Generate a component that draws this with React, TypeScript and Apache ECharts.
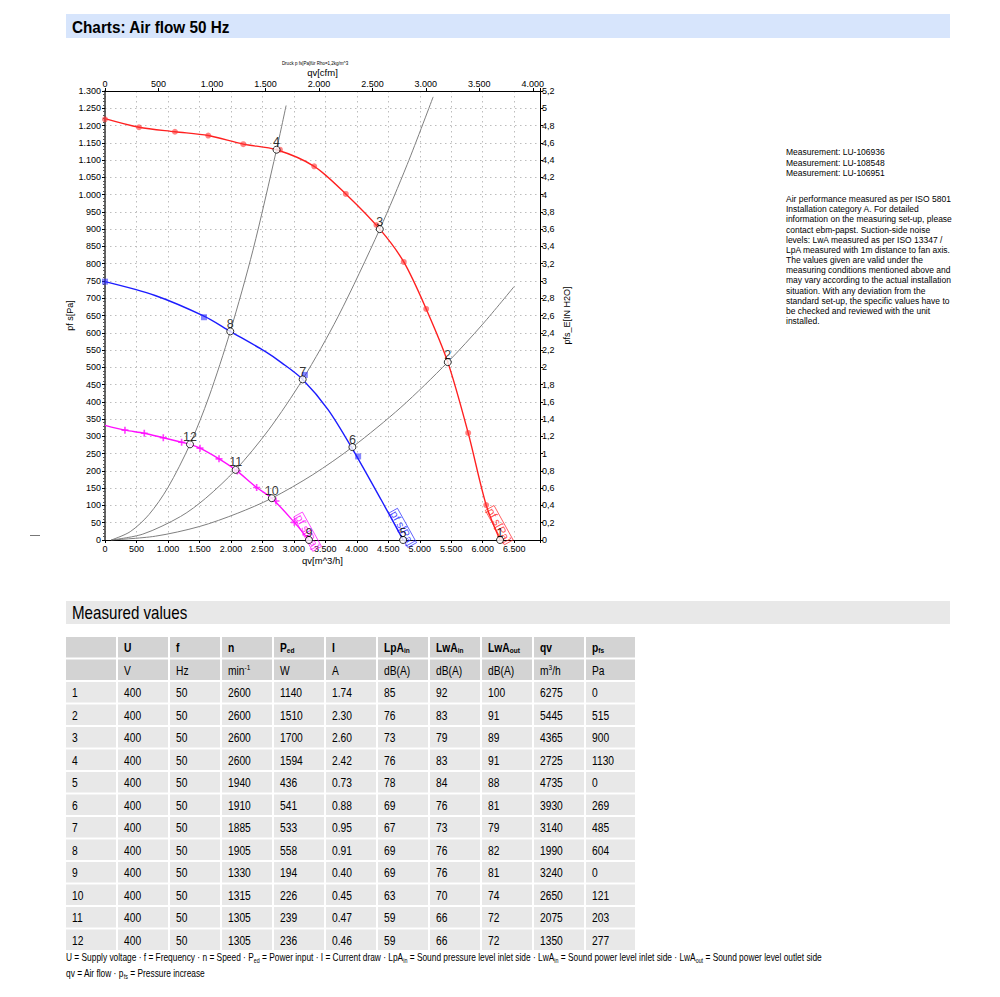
import React, { useEffect, useRef } from 'react';
import * as echarts from 'echarts';

const FONT = '"Liberation Sans", Arial, Helvetica, sans-serif';
const NARROW_SCALE = 0.82;

// ---------- chart data (qv in m^3/h, pressure in Pa) ----------
const redCurve = [
  [0, 1220], [540, 1195], [1111, 1182], [1640, 1171], [2196, 1146], [2725, 1130], [3323, 1082],
  [3825, 1002], [4365, 900], [4746, 805], [5102, 669], [5445, 515], [5769, 310], [6055, 101], [6275, 0],
];
const redMarkers = [
  [0, 1218], [540, 1195], [1111, 1182], [1640, 1171], [2196, 1146], [2778, 1130], [3323, 1082],
  [3825, 1002], [4312, 912], [4746, 805], [5102, 669], [5769, 310], [6055, 101],
];
const blueCurve = [
  [0, 748], [795, 708], [1573, 648], [1990, 604], [2543, 546], [2807, 513], [3140, 465],
  [3546, 377], [3930, 264], [4391, 115], [4735, 0],
];
const blueMarkers = [[0, 748], [1573, 645], [3175, 478], [4021, 242]];
const magentaCurve = [
  [0, 332], [317, 318], [624, 309], [926, 296], [1217, 283], [1350, 277], [1509, 266],
  [1811, 235], [2075, 203], [2409, 152], [2650, 121], [3008, 51], [3240, 0],
];
const magentaMarkers = [
  [317, 318], [624, 309], [926, 296], [1217, 283], [1509, 266], [1811, 235], [2102, 200],
  [2409, 152], [2716, 113], [3008, 51],
];
const systemCurveA = [
  [100, 0], [400, 24], [700, 74], [1000, 152], [1350, 277], [1650, 414], [1990, 604],
  [2350, 839], [2725, 1130], [2877, 1258],
];
const systemCurveB = [
  [100, 0], [600, 17], [1200, 68], [1600, 121], [2075, 203], [2600, 319], [3140, 465],
  [3700, 646], [4365, 900], [4800, 1087], [5213, 1283],
];
const systemCurveC = [
  [100, 0], [800, 11], [1500, 39], [2100, 77], [2650, 121], [3300, 189], [3930, 269],
  [4700, 384], [5445, 515], [6000, 625], [6500, 734],
];

// operating points as plotted
const opQv = [6275, 5445, 4365, 2725, 4735, 3930, 3140, 1990, 3240, 2650, 2075, 1350];
const opPfs = [0, 515, 900, 1130, 0, 269, 465, 604, 0, 121, 203, 277];

// curve name labels
const curveLabelPts = [[6262, 43], [4728, 35], [3218, 24]];
const curveLabelColors = ['#ff2020', '#2020ff', '#ff00ff'];

// ---------- table data ----------
const rowIds = [1, 2, 3, 4, 5, 6, 7, 8, 9, 10, 11, 12];
const colU = [400, 400, 400, 400, 400, 400, 400, 400, 400, 400, 400, 400];
const colF = [50, 50, 50, 50, 50, 50, 50, 50, 50, 50, 50, 50];
const colN = [2600, 2600, 2600, 2600, 1940, 1910, 1885, 1905, 1330, 1315, 1305, 1305];
const colPed = [1140, 1510, 1700, 1594, 436, 541, 533, 558, 194, 226, 239, 236];
const colI = ['1.74', '2.30', '2.60', '2.42', '0.73', '0.88', '0.95', '0.91', '0.40', '0.45', '0.47', '0.46'];
const colLpAin = [85, 76, 73, 76, 78, 69, 67, 69, 69, 63, 59, 59];
const colLwAin = [92, 83, 79, 83, 84, 76, 73, 76, 76, 70, 66, 66];
const colLwAout = [100, 91, 89, 91, 88, 81, 79, 82, 81, 74, 72, 72];
const colQv = [6275, 5445, 4365, 2725, 4735, 3930, 3140, 1990, 3240, 2650, 2075, 1350];
const colPfs = [0, 515, 900, 1130, 0, 269, 485, 604, 0, 121, 203, 277];

const headTop = ['', 'U', 'f', 'n', 'P{sb|ed}', 'I', 'LpA{sb|in}', 'LwA{sb|in}', 'LwA{sb|out}', 'qv', 'p{sb|fs}'];
const headUnits = ['', 'V', 'Hz', 'min{sp|-1}', 'W', 'A', 'dB(A)', 'dB(A)', 'dB(A)', 'm{sp|3}/h', 'Pa'];

const infoMeasurements = ['Measurement: LU-106936', 'Measurement: LU-108548', 'Measurement: LU-106951'];
const infoParagraph = [
  'Air performance measured as per ISO 5801',
  'Installation category A. For detailed',
  'information on the measuring set-up, please',
  'contact ebm-papst. Suction-side noise',
  'levels: LwA measured as per ISO 13347 /',
  'LpA measured with 1m distance to fan axis.',
  'The values given are valid under the',
  'measuring conditions mentioned above and',
  'may vary according to the actual installation',
  'situation. With any deviation from the',
  'standard set-up, the specific values have to',
  'be checked and reviewed with the unit',
  'installed.',
];
const footLines = [
  'U = Supply voltage · f = Frequency · n = Speed · P{sb|ed} = Power input · I = Current draw · LpA{sb|in} = Sound pressure level inlet side · LwA{sb|in} = Sound power level inlet side · LwA{sb|out} = Sound power level outlet side',
  'qv = Air flow · p{sb|fs} = Pressure increase',
];

const X_MAX = 6910;
const CFM = 1.69901;

const fmtDot = (v: number): string => {
  const r = Math.round(v);
  if (r >= 1000) return Math.floor(r / 1000) + '.' + String(r % 1000).padStart(3, '0');
  return String(r);
};

const txt = (x: number, y: number, text: string, extra: any = {}, scaleX = 1) => ({
  type: 'text',
  x,
  y,
  scaleX,
  silent: true,
  style: {
    text,
    fill: '#000',
    fontSize: 9,
    fontFamily: FONT,
    align: 'left',
    textAlign: 'left',
    verticalAlign: 'middle',
    textVerticalAlign: 'middle',
    ...extra,
  },
});

function buildGraphic() {
  const els: any[] = [];
  // header bar
  els.push({ type: 'rect', shape: { x: 66, y: 14, width: 884, height: 24 }, style: { fill: '#d7e5fc' }, silent: true });
  els.push(txt(72, 26.5, 'Charts: Air flow 50 Hz', { fontSize: 17, fontWeight: 'bold' }, 0.9));
  // tiny chart caption
  els.push(txt(315, 63, 'Druck p fs[Pa]für Rho=1,2kg/m^3', { fontSize: 4.5, align: 'center', textAlign: 'center' }));
  // small dash at left
  els.push({ type: 'line', shape: { x1: 30, y1: 535.5, x2: 40, y2: 535.5 }, style: { stroke: '#777', lineWidth: 1 }, silent: true });
  // info texts
  infoMeasurements.forEach((t, i) => els.push(txt(786, 152 + i * 10.6, t, { fontSize: 8.5 })));
  infoParagraph.forEach((t, i) => els.push(txt(786, 199 + i * 10.17, t, { fontSize: 8.5 })));
  // measured values bar
  els.push({ type: 'rect', shape: { x: 66, y: 601, width: 884, height: 23 }, style: { fill: '#e8e8e8' }, silent: true });
  els.push(txt(72, 612.5, 'Measured values', { fontSize: 17.5 }, 0.865));

  // table
  const TX = 66, PITCH_X = 52, CW = 50, TY = 637, PITCH_Y = 22.5, CH = 20.5;
  const richBold = {
    sb: { fontSize: 8, fontWeight: 'bold', fontFamily: FONT, verticalAlign: 'bottom' },
  };
  const richNorm = {
    sp: { fontSize: 8, fontFamily: FONT, verticalAlign: 'top' },
  };
  const dataRows: string[][] = rowIds.map((id, i) => [
    String(id), String(colU[i]), String(colF[i]), String(colN[i]), String(colPed[i]), colI[i],
    String(colLpAin[i]), String(colLwAin[i]), String(colLwAout[i]), String(colQv[i]), String(colPfs[i]),
  ]);
  const allRows = [headTop, headUnits, ...dataRows];
  allRows.forEach((row, r) => {
    const y = TY + r * PITCH_Y;
    row.forEach((cell, c) => {
      const x = TX + c * PITCH_X;
      els.push({
        type: 'rect',
        shape: { x, y, width: c === row.length - 1 ? CW - 1 : CW, height: CH },
        style: { fill: r < 2 ? '#d3d3d3' : '#e8e8e8' },
        silent: true,
      });
      if (cell) {
        els.push(txt(x + 6, y + CH / 2 + 0.5, cell, {
          fontSize: 12.5,
          fontWeight: r === 0 ? 'bold' : 'normal',
          lineHeight: 14,
          rich: r === 0 ? richBold : richNorm,
        }, NARROW_SCALE));
      }
    });
  });
  // footnotes
  const footRich = { sb: { fontSize: 6.5, fontFamily: FONT, verticalAlign: 'bottom' } };
  footLines.forEach((t, i) =>
    els.push(txt(66, 958 + i * 16, t, { fontSize: 10.2, lineHeight: 12, rich: footRich }, NARROW_SCALE))
  );
  return els;
}

const plusPath = 'path://M2,0h1.2v2h2v1.2h-2v2h-1.2v-2h-2v-1.2h2z';

function buildOption(): any {
  const lineS = (name: string, data: number[][], color: string, width: number) => ({
    name,
    type: 'line',
    data,
    smooth: 0.3,
    showSymbol: false,
    symbol: 'none',
    silent: true,
    lineStyle: { color, width },
    z: 2,
  });
  const markS = (name: string, data: number[][], symbol: string, size: number, color: string) => ({
    name,
    type: 'scatter',
    data,
    symbol,
    symbolSize: size,
    silent: true,
    itemStyle: { color },
    z: 3,
  });
  const axisLabel = { fontSize: 9, color: '#000', fontFamily: FONT };
  return {
    animation: false,
    backgroundColor: '#fff',
    textStyle: { fontFamily: FONT },
    grid: { left: 105, top: 91, width: 435, height: 449, show: false },
    xAxis: [
      {
        type: 'value', position: 'bottom', min: 0, max: X_MAX, interval: 500,
        name: 'qv[m^3/h]', nameLocation: 'middle', nameGap: 15,
        nameTextStyle: { fontSize: 9.5, color: '#000', fontFamily: FONT },
        axisLine: { show: true, onZero: false, lineStyle: { color: '#000', width: 1 } },
        axisTick: { show: true, length: 3, lineStyle: { color: '#000' } },
        axisLabel: { ...axisLabel, margin: 4, formatter: (v: number) => (v <= 6500 && Math.round(v) % 500 === 0 ? fmtDot(v) : '') },
        splitLine: { show: true, lineStyle: { color: '#bdbdbd', type: [1.5, 3.5], width: 1 } },
      },
      {
        type: 'value', position: 'top', min: 0, max: X_MAX / CFM, interval: 500,
        name: 'qv[cfm]', nameLocation: 'middle', nameGap: 14,
        nameTextStyle: { fontSize: 9.5, color: '#000', fontFamily: FONT },
        axisLine: { show: true, onZero: false, lineStyle: { color: '#000', width: 1 } },
        axisTick: { show: true, length: 3, lineStyle: { color: '#000' } },
        axisLabel: { ...axisLabel, margin: 3, formatter: (v: number) => (v <= 4000 && Math.round(v) % 500 === 0 ? fmtDot(v) : '') },
        splitLine: { show: false },
      },
    ],
    yAxis: [
      {
        type: 'value', position: 'left', min: 0, max: 1300, interval: 50,
        name: 'pf s[Pa]', nameLocation: 'middle', nameGap: 30, nameRotate: 90,
        nameTextStyle: { fontSize: 9, color: '#000', fontFamily: FONT },
        axisLine: { show: true, onZero: false, lineStyle: { color: '#333', width: 1.5 } },
        axisTick: { show: true, length: 3, lineStyle: { color: '#000' } },
        minorTick: { show: true, splitNumber: 5, length: 2, lineStyle: { color: '#555' } },
        axisLabel: { ...axisLabel, margin: 4, formatter: (v: number) => fmtDot(v) },
        splitLine: { show: true, lineStyle: { color: '#bdbdbd', type: [1.5, 3.5], width: 1 } },
      },
      {
        type: 'value', position: 'right', min: 0, max: 5.2, interval: 0.2,
        name: 'pfs_E[IN H2O]', nameLocation: 'middle', nameGap: 22, nameRotate: 90,
        nameTextStyle: { fontSize: 9, color: '#000', fontFamily: FONT },
        axisLine: { show: true, onZero: false, lineStyle: { color: '#000', width: 1 } },
        axisTick: { show: true, length: 3, lineStyle: { color: '#000' } },
        axisLabel: { ...axisLabel, margin: 2, formatter: (v: number) => String(Math.round(v * 10) / 10).replace('.', ',') },
        splitLine: { show: false },
      },
    ],
    series: [
      lineS('sysA', systemCurveA, '#7f7f7f', 1),
      lineS('sysB', systemCurveB, '#7f7f7f', 1),
      lineS('sysC', systemCurveC, '#7f7f7f', 1),
      lineS('red', redCurve, '#ff2020', 1.4),
      lineS('blue', blueCurve, '#1c1cff', 1.4),
      lineS('magenta', magentaCurve, '#ff10ff', 1.4),
      markS('redM', redMarkers, 'circle', 6, 'rgba(255,50,50,0.75)'),
      markS('blueM', blueMarkers, 'rect', 6, 'rgba(40,40,255,0.7)'),
      markS('magM', magentaMarkers, plusPath, 7, '#ff10ff'),
      {
        name: 'op',
        type: 'scatter',
        data: opQv.map((q, i) => [q, opPfs[i]]),
        symbol: 'circle',
        symbolSize: 7,
        silent: true,
        itemStyle: { color: '#fff', borderColor: '#000', borderWidth: 1 },
        label: {
          show: true,
          position: 'top',
          distance: -3,
          formatter: (p: any) => String(p.dataIndex + 1),
          fontSize: 12.5,
          color: '#000',
          fontFamily: FONT,
        },
        z: 5,
      },
      ...curveLabelPts.map((pt, i) => ({
        name: 'lbl' + i,
        type: 'scatter',
        data: [pt],
        symbolSize: 0,
        silent: true,
        itemStyle: { color: curveLabelColors[i] },
        label: {
          show: true,
          position: 'inside',
          rotate: -61,
          formatter: 'pf s[Pa]',
          fontSize: 11,
          lineHeight: 11,
          color: curveLabelColors[i],
          fontFamily: FONT,
          borderColor: curveLabelColors[i],
          borderWidth: 0.8,
          padding: [0, 1, -1, 1],
        },
        z: 4,
      })),
    ],
    graphic: buildGraphic(),
  };
}

export default function App() {
  const ref = useRef<HTMLDivElement>(null);
  useEffect(() => {
    if (!ref.current) return;
    const chart = echarts.init(ref.current, undefined, { renderer: 'svg' });
    chart.setOption(buildOption());
    return () => chart.dispose();
  }, []);
  return (
    <div
      ref={ref}
      style={{ position: 'absolute', left: 0, top: 0, width: 1000, height: 997, background: '#fff' }}
    />
  );
}
